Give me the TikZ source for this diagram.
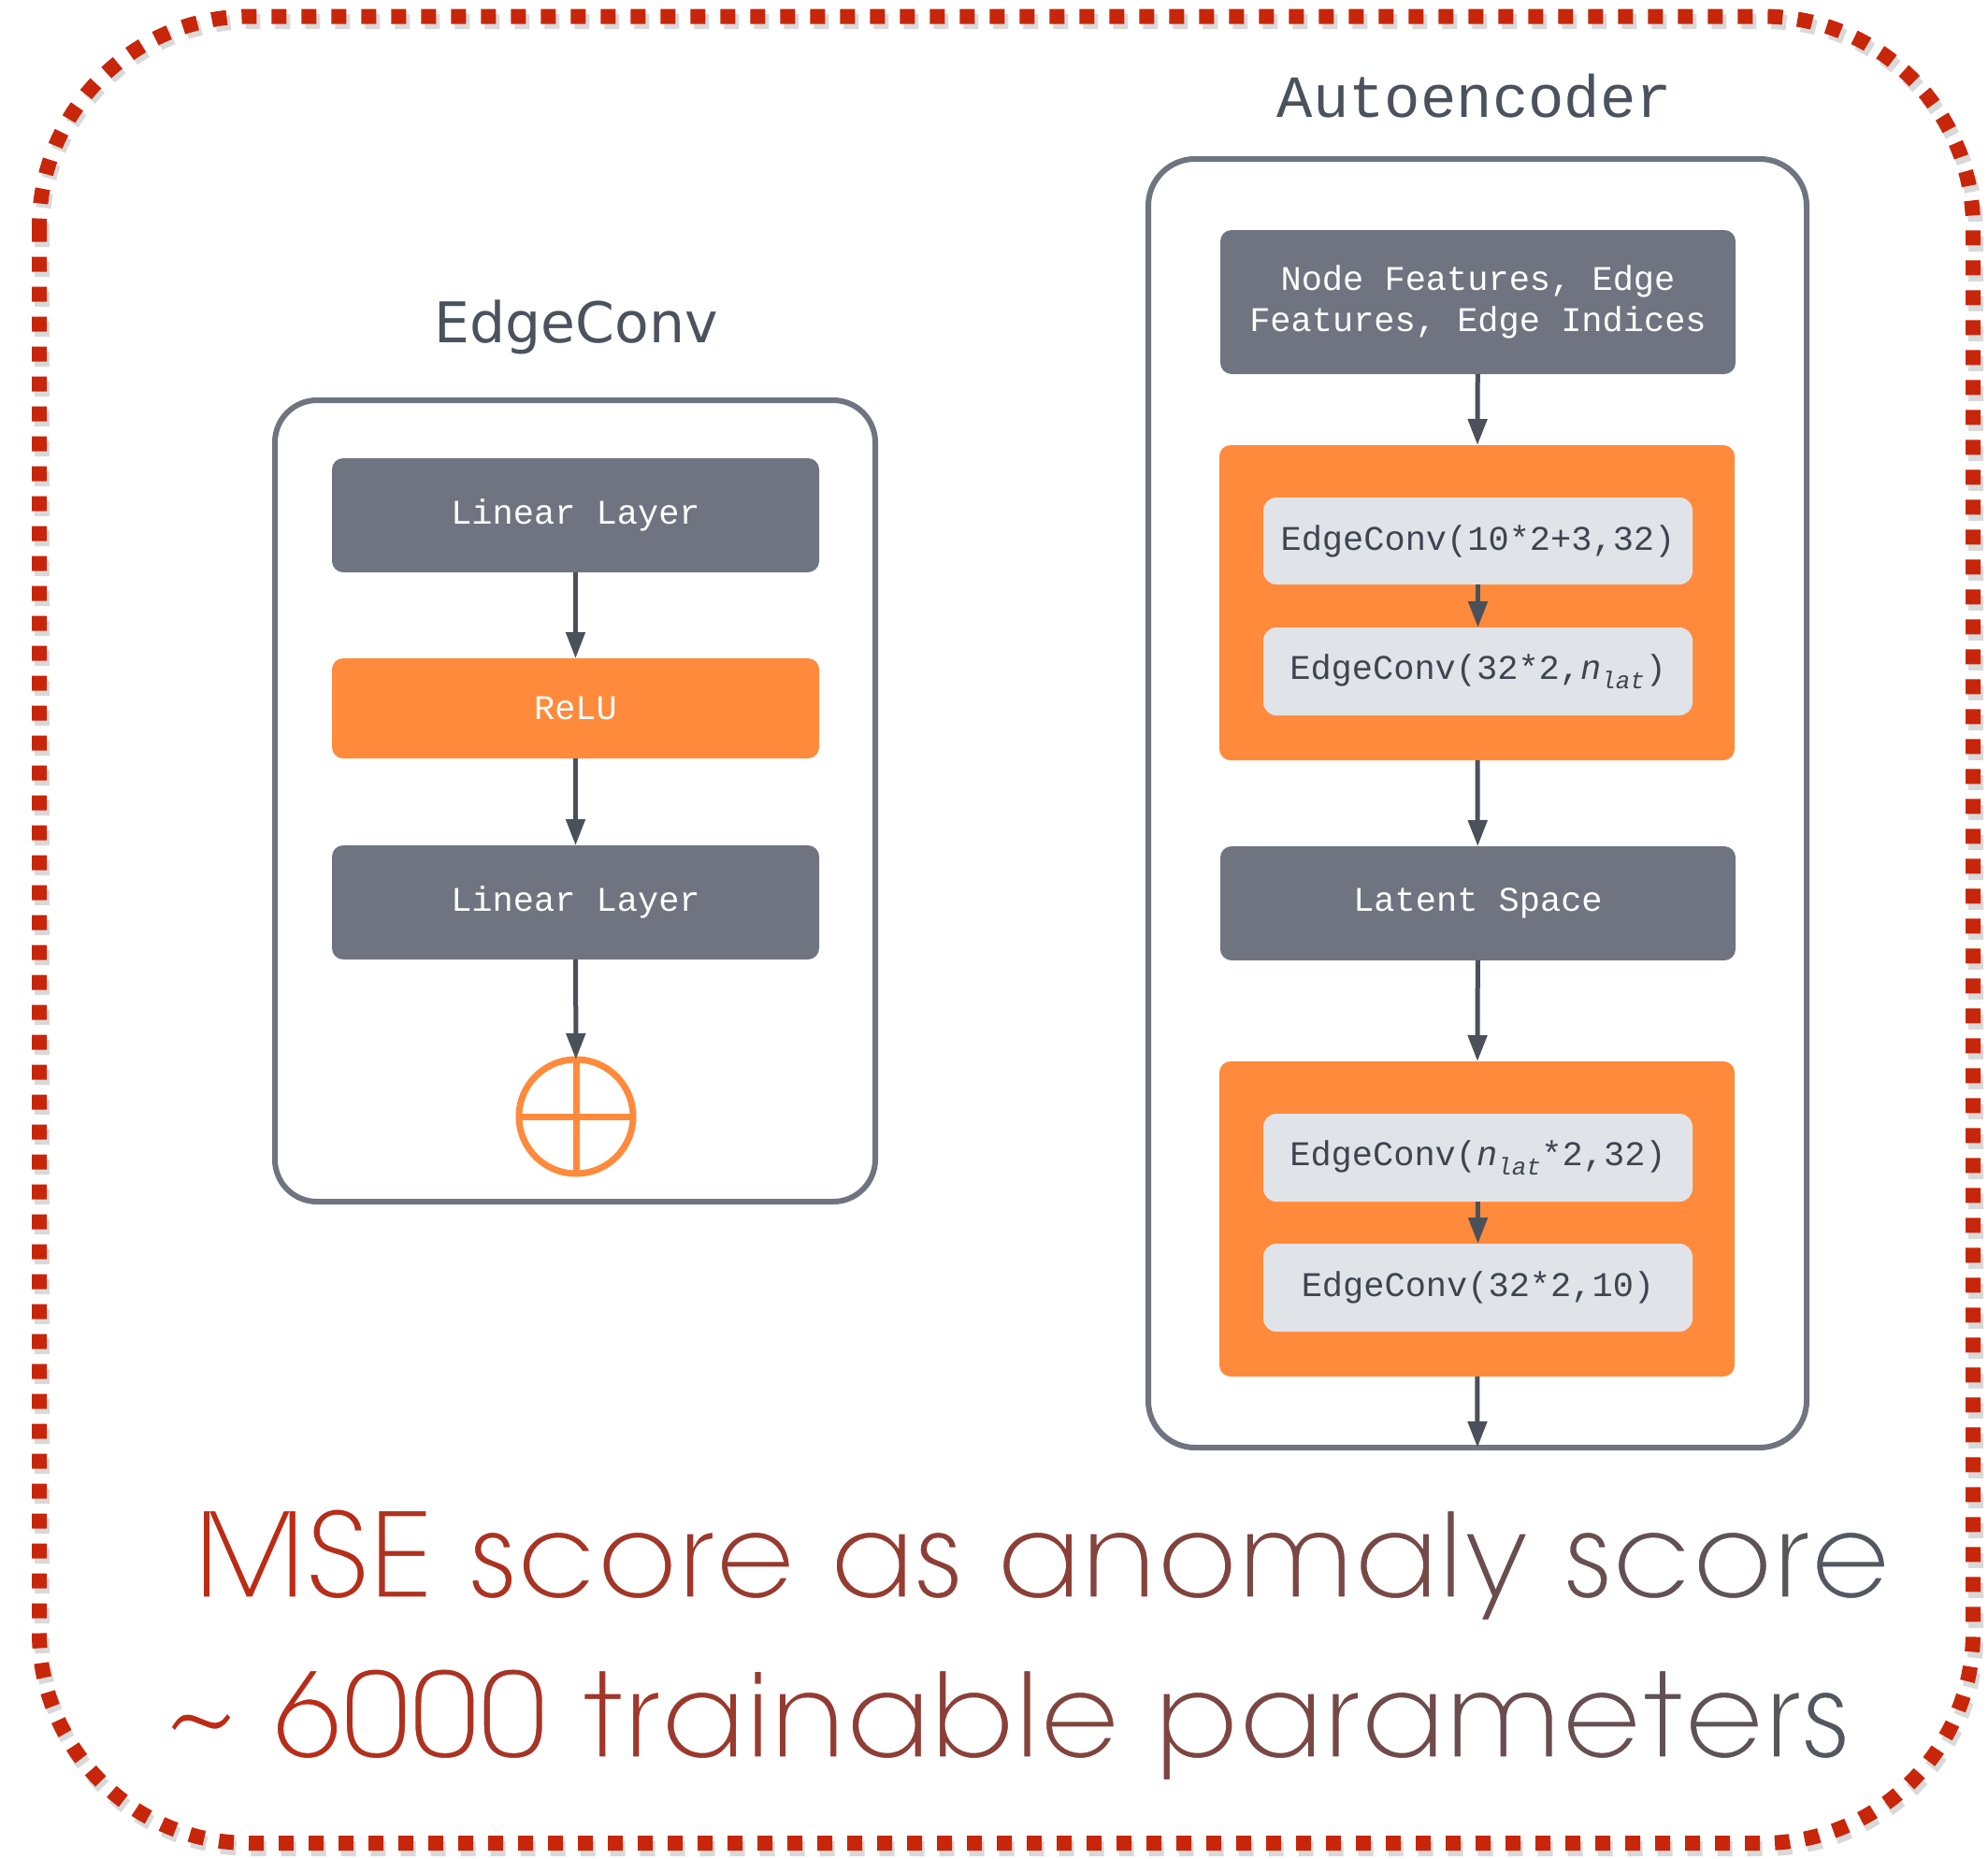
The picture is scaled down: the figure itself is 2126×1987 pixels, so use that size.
\documentclass[tikz,border=0pt]{standalone}
\usepackage{fontspec}
\usepackage{graphicx}
\usetikzlibrary{arrows.meta}
\setmainfont{DejaVu Sans}
\newfontfamily\monof{Liberation Mono}
\newfontfamily\titlef{DejaVu Sans}
\newfontfamily\gothic{TeX Gyre Adventor}

\definecolor{slate}{HTML}{6F7480}
\definecolor{orng}{HTML}{FF8A3B}
\definecolor{pale}{HTML}{E0E3E8}
\definecolor{ink}{HTML}{3E4450}
\definecolor{arrowc}{HTML}{4B515B}
\definecolor{titlec}{HTML}{4B525D}
\definecolor{dashred}{HTML}{C8260A}
\definecolor{startred}{HTML}{BF2A14}
\definecolor{endgray}{HTML}{53575F}

% colour each letter of a word along a red-to-gray ramp (#1 -> #2 percent gray);
% in outline mode every letter is set in white instead, with the same spacing
\newif\ifgrthin
\newcommand\gcol[2]{\ifgrthin\textcolor{white}{#2}\else\textcolor{#1}{#2}\fi}
\makeatletter
\newcount\gr@n \newcount\gr@k \newcount\gr@p
\newcommand\gradword[3]{%
  \gr@n=0 \@tfor\gr@c:=#3\do{\advance\gr@n by 1 }%
  \gr@k=0
  \@tfor\gr@c:=#3\do{%
    \gr@p=#2 \advance\gr@p by -#1 \multiply\gr@p by \gr@k
    \ifnum\gr@n>1 \divide\gr@p by \numexpr\gr@n-1\relax\fi
    \advance\gr@p by #1
    \gcol{endgray!\the\gr@p!startred}{\gr@c}%
    \advance\gr@k by 1 }%
}
\makeatother

% the two summary lines; #1 is put before the text (used for the outline pass)
\newcommand\msetext[1]{\resizebox{1816pt}{\height}{\gothic\fontsize{128}{128}\selectfont#1%
  \gradword{2}{15}{MSE} \gradword{18}{36}{score} \gradword{39}{46}{as} \gradword{48}{79}{anomaly} \gradword{81}{100}{score}}}
\newcommand\paramtext[1]{\resizebox{1803pt}{\height}{\gothic\fontsize{128}{128}\selectfont#1%
  \gcol{startred}{\textasciitilde} \gradword{6}{24}{6000} \gradword{26}{57}{trainable} \gradword{61}{100}{parameters}}}
% white outline stroked over the glyphs, giving a lighter stroke weight
\newcommand\outlinepass{\grthintrue\color{white}\special{pdf:literal direct 1 1 1 rg 1 1 1 RG 1 Tr 3.4 w}}

\begin{document}
\begin{tikzpicture}[x=1pt,y=-1pt,
  every node/.style={inner sep=0pt, outer sep=0pt},
  frame/.style={draw=slate, line width=6pt, fill=white},
  darkbox/.style={fill=slate, rounded corners=12pt, text=white,
    minimum width=521pt, font=\monof\fontsize{37}{44}\selectfont},
  relubox/.style={fill=orng, rounded corners=12pt, text=white,
    minimum width=521pt, font=\monof\fontsize{37}{44}\selectfont},
  groupbox/.style={fill=orng, rounded corners=12pt, minimum width=551pt, minimum height=337pt},
  convbox/.style={fill=pale, rounded corners=14pt, text=ink, minimum width=459pt,
    minimum height=94pt, font=\monof\fontsize{37}{44}\selectfont},
  arr/.style={draw=arrowc, line width=5pt, -{Triangle[length=28pt,width=20pt]}},
  heading/.style={text=titlec, anchor=base}
]
\useasboundingbox (0,0) rectangle (2126,1987);

% outer dotted frame with a soft shadow
\draw[black, opacity=0.15, line width=16pt, dash pattern=on 16pt off 16pt,
  rounded corners=225pt] (45,23) rectangle (2113,1977);
\draw[dashred, line width=16pt, dash pattern=on 16pt off 16pt,
  rounded corners=225pt] (42,17.5) rectangle (2110,1971);

% ---------------- EdgeConv block ----------------
\node[heading, font=\titlef\fontsize{60}{60}\selectfont] (ectitle) at (616,366) {EdgeConv};
\node[frame, rounded corners=45pt, minimum width=642pt, minimum height=857pt] (ecbox) at (615,856.5) {};
\node[darkbox, minimum height=122pt] (lin1) at (615.5,551) {Linear Layer};
\node[relubox, minimum height=107pt] (relu) at (615.5,757.5) {ReLU};
\node[darkbox, minimum height=122pt] (lin2) at (615.5,965) {Linear Layer};
\node[circle, draw=orng, line width=7pt, minimum size=122pt] (sum) at (616,1194) {};
\draw[orng, line width=7pt] (sum.north) -- (sum.south) (sum.west) -- (sum.east);

\draw[arr] (lin1) -- (relu);
\draw[arr] (relu) -- (lin2);
\draw[arr] (lin2) -- (sum);

% ---------------- Autoencoder block ----------------
\node[heading, font=\monof\fontsize{64}{64}\selectfont] (aetitle) at (1577,125) {Autoencoder};
\node[frame, rounded corners=50pt, minimum width=704pt, minimum height=1378pt] (aebox) at (1580,859) {};
\node[darkbox, minimum width=551pt, minimum height=154pt, align=center] (inputs) at (1580.5,323)
  {Node Features, Edge\\Features, Edge Indices};
\node[groupbox] (enc) at (1579.5,644.5) {};
\node[convbox, minimum height=93pt] (conv1) at (1580.5,578.5) {EdgeConv(10*2+3,32)};
\node[convbox] (conv2) at (1580.5,718) {EdgeConv(32*2,\textit{n}\textsubscript{\textit{lat}})};
\node[darkbox, minimum width=551pt, minimum height=122pt] (latent) at (1580.5,966) {Latent Space};
\node[groupbox] (dec) at (1579.5,1303.5) {};
\node[convbox] (conv3) at (1580.5,1238) {EdgeConv(\textit{n}\textsubscript{\textit{lat}}*2,32)};
\node[convbox] (conv4) at (1580.5,1377) {EdgeConv(32*2,10)};

\draw[arr] (inputs) -- (enc);
\draw[arr] (conv1) -- (conv2);
\draw[arr] (enc) -- (latent);
\draw[arr] (latent) -- (dec);
\draw[arr] (conv3) -- (conv4);
\draw[arr] (dec) -- (aebox.south);

% ---------------- summary lines ----------------
\node[anchor=base] (msetxt) at (1114,1709) {\msetext{}};
\node[anchor=base] (paramtxt) at (1076.5,1880) {\paramtext{}};
% second pass: outlines only, in white, to slim the strokes
\node[anchor=base] (msethin) at (1114,1709) {\msetext{\outlinepass}\special{pdf:literal direct 0 Tr}};
\node[anchor=base] (paramthin) at (1076.5,1880) {\paramtext{\outlinepass}\special{pdf:literal direct 0 Tr}};
\end{tikzpicture}
\end{document}
